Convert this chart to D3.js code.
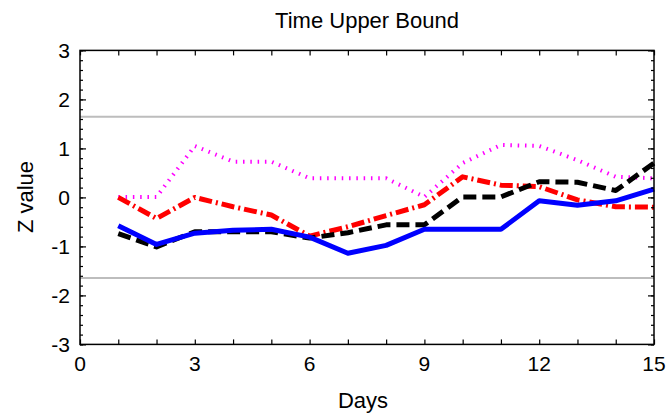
<!DOCTYPE html>
<html><head><meta charset="utf-8">
<script src="https://cdn.jsdelivr.net/npm/d3@7"></script>
<style>body{margin:0;background:#fff}svg{display:block}text{font-family:Arial,"Liberation Sans",sans-serif;fill:#000}</style>
</head><body><svg id="c" width="668" height="418"></svg>
<script>
const days = [1,2,3,4,5,6,7,8,9,10,11,12,13,14,15];
const blueSolid   = [-0.58,-0.96,-0.73,-0.67,-0.65,-0.81,-1.14,-0.98,-0.65,-0.65,-0.65,-0.07,-0.16,-0.07,0.17];
const blackDashed = [-0.74,-1.01,-0.70,-0.70,-0.70,-0.83,-0.72,-0.56,-0.56,0.01,0.01,0.32,0.31,0.14,0.70];
const redDashDot  = [0.00,-0.43,0.00,-0.19,-0.36,-0.79,-0.60,-0.37,-0.15,0.42,0.25,0.22,-0.05,-0.19,-0.20];
const magentaDot  = [0.01,0.01,1.05,0.73,0.73,0.39,0.39,0.39,0.01,0.70,1.07,1.05,0.76,0.42,0.39];
const xTicks = [0,3,6,9,12,15];
const yTicks = [-3,-2,-1,0,1,2,3];
const critical = [1.645,-1.645];

const svg = d3.select("#c");
const L=80,R=654,T=50.4,B=344.4;
const x = d3.scaleLinear().domain([0,15]).range([L,R]);
const y = d3.scaleLinear().domain([-3,3]).range([B,T]);

svg.selectAll("line.crit").data(critical).enter().append("line")
  .attr("x1",L).attr("x2",R).attr("y1",d=>y(d)).attr("y2",d=>y(d))
  .attr("stroke","#bdbdbd").attr("stroke-width",2);

const line = d3.line().x((d,i)=>x(days[i])).y(d=>y(d));
const series = [
  {v:magentaDot,c:"#ff00ff",w:4,da:"1.5 5.8"},
  {v:redDashDot,c:"#ff0000",w:5,da:"13 4 2 4"},
  {v:blackDashed,c:"#000",w:5,da:"13 6"},
  {v:blueSolid,c:"#0000ff",w:5,da:null}
];
series.forEach(s=>{
  svg.append("path").attr("d",line(s.v)).attr("fill","none")
    .attr("stroke",s.c).attr("stroke-width",s.w)
    .attr("stroke-dasharray",s.da).attr("stroke-linejoin","round");
});

const minorY = d3.range(-3,3.001,0.2).map(v=>+v.toFixed(1));
const g = svg.append("g");
g.append("g").attr("transform",`translate(${L},0)`)
  .call(d3.axisRight(y).tickValues(minorY).tickSize(3).tickFormat(""));
g.append("g").attr("transform",`translate(${L},0)`)
  .call(d3.axisRight(y).tickValues(yTicks).tickSize(6).tickFormat(""));
g.append("g").attr("transform",`translate(${R},0)`)
  .call(d3.axisLeft(y).tickValues(minorY).tickSize(3).tickFormat(""));
g.append("g").attr("transform",`translate(${R},0)`)
  .call(d3.axisLeft(y).tickValues(yTicks).tickSize(6).tickFormat(""));
g.append("g").attr("transform",`translate(0,${B})`)
  .call(d3.axisTop(x).tickValues(d3.range(0,16)).tickSize(5).tickFormat(""));
g.append("g").attr("transform",`translate(0,${T})`)
  .call(d3.axisBottom(x).tickValues(d3.range(0,16)).tickSize(5).tickFormat(""));
g.selectAll(".domain").remove();
g.selectAll(".tick line").attr("stroke","#000").attr("stroke-width",1.2);

svg.append("rect").attr("x",L).attr("y",T).attr("width",R-L).attr("height",B-T)
  .attr("fill","none").attr("stroke","#000").attr("stroke-width",1.5);

svg.selectAll("text.yl").data(yTicks).enter().append("text")
  .attr("x",L-10).attr("y",d=>y(d)).attr("dy","0.36em").attr("text-anchor","end")
  .attr("font-size",21).text(d=>d);
svg.selectAll("text.xl").data(xTicks).enter().append("text")
  .attr("x",d=>x(d)).attr("y",371).attr("text-anchor","middle")
  .attr("font-size",21).text(d=>d);
svg.append("text").attr("x",(L+R)/2).attr("y",28).attr("text-anchor","middle")
  .attr("font-size",22).text("Time Upper Bound");
svg.append("text").attr("x",(L+R)/2-4).attr("y",408).attr("text-anchor","middle")
  .attr("font-size",22).text("Days");
svg.append("text").attr("transform",`translate(33,197) rotate(-90)`)
  .attr("text-anchor","middle").attr("font-size",22).text("Z value");
</script></body></html>
